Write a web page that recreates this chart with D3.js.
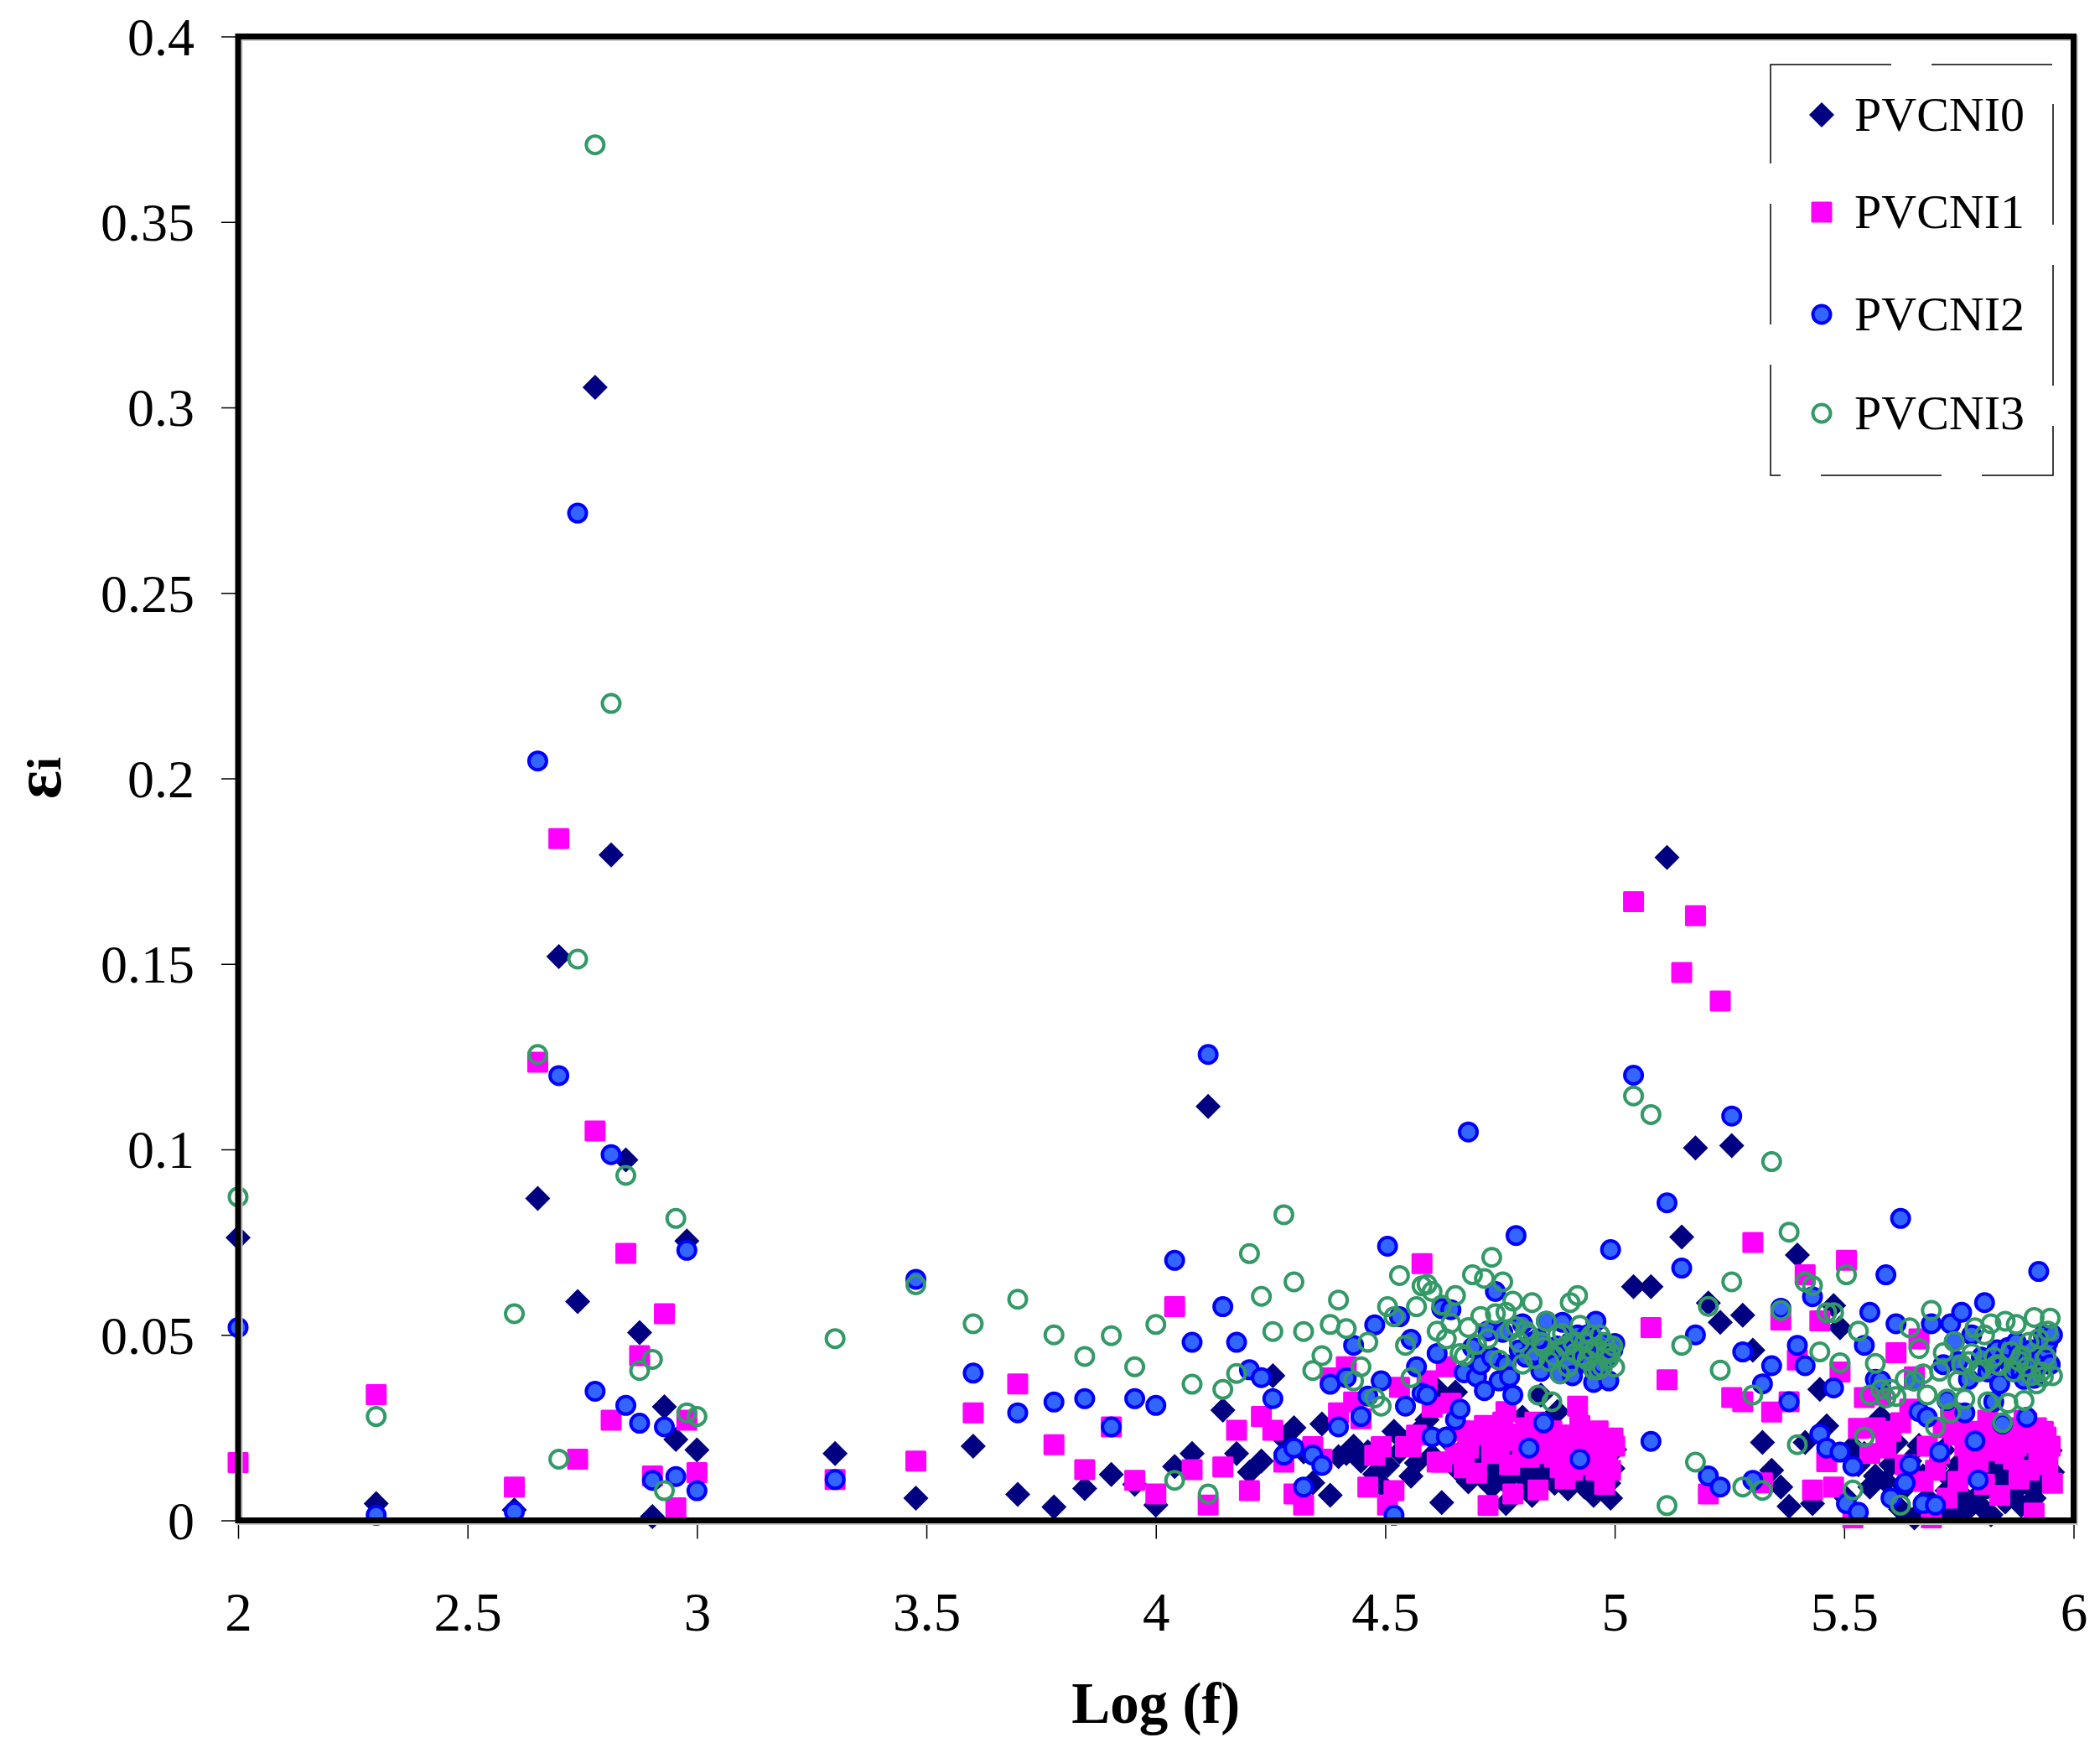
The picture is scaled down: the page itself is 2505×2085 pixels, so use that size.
<!DOCTYPE html>
<html lang="en">

<head>
    <meta charset="UTF-8">
    <title>PVCNI loss factor vs Log (f)</title>
    <script src="https://d3js.org/d3.v7.min.js"></script>
    <style>
        body { margin: 0; background: #fff; }
        svg { display: block; }
        text { font-family: "Liberation Serif", "Times New Roman", serif; fill: #000; }
    </style>
</head>

<body>
    <svg id="chart" width="2505" height="2085"></svg>

    <script>
        // log10 of the measuring frequency (100 Hz ... 900 kHz)
        const logF = [
            2.000, 2.301, 2.602, 2.653, 2.699, 2.740, 2.778, 2.813, 2.845, 2.875, 2.903, 2.929, 2.954, 2.978, 3.000,
            3.301, 3.477, 3.602, 3.699, 3.778, 3.845, 3.903, 3.954, 4.000,
            4.041, 4.079, 4.114, 4.146, 4.176, 4.204, 4.230, 4.255, 4.279, 4.301,
            4.322, 4.342, 4.362, 4.380, 4.398, 4.415, 4.431, 4.447, 4.462, 4.477, 4.491, 4.505, 4.519, 4.531, 4.544, 4.556, 4.568, 4.580,
            4.591, 4.602, 4.613, 4.623, 4.633, 4.643, 4.653, 4.663, 4.672, 4.681, 4.690, 4.699,
            4.708, 4.716, 4.724, 4.732, 4.740, 4.748, 4.756, 4.763, 4.771, 4.778,
            4.785, 4.792, 4.799, 4.806, 4.813, 4.820, 4.826, 4.833, 4.839, 4.845,
            4.851, 4.857, 4.863, 4.869, 4.875, 4.881, 4.886, 4.892, 4.898, 4.903,
            4.908, 4.914, 4.919, 4.924, 4.929, 4.934, 4.940, 4.944, 4.949, 4.954,
            4.959, 4.964, 4.968, 4.973, 4.978, 4.982, 4.987, 4.991, 4.996, 5.000,
            5.041, 5.079, 5.114, 5.146, 5.176, 5.204, 5.230, 5.255, 5.279, 5.301,
            5.322, 5.342, 5.362, 5.380, 5.398, 5.415, 5.431, 5.447, 5.462, 5.477, 5.491, 5.505, 5.519, 5.531, 5.544, 5.556, 5.568,
            5.580, 5.591, 5.602,
            5.613, 5.623, 5.633, 5.643, 5.653, 5.663, 5.672, 5.681, 5.690, 5.699,
            5.708, 5.716, 5.724, 5.732, 5.740, 5.748, 5.756, 5.763, 5.771, 5.778,
            5.785, 5.792, 5.799, 5.806, 5.813, 5.820, 5.826, 5.833, 5.839, 5.845,
            5.851, 5.857, 5.863, 5.869, 5.875, 5.881, 5.886, 5.892, 5.898, 5.903,
            5.908, 5.914, 5.919, 5.924, 5.929, 5.934, 5.940, 5.944, 5.949, 5.954
        ];

        const pvcni0 = [
            0.0762, 0.0045, 0.0028, 0.0868, 0.1520, 0.0590, 0.3054, 0.1794, 0.0972, 0.0506, 0.0010, 0.0306, 0.0218, 0.0753, 0.0190,
            0.0180, 0.0060, 0.0200, 0.0070, 0.0036, 0.0086, 0.0124, 0.0097, 0.0041,
            0.0145, 0.0180, 0.1116, 0.0297, 0.0180, 0.0130, 0.0160, 0.0390, 0.0220, 0.0250,
            0.0185, 0.0101, 0.0260, 0.0068, 0.0172, 0.0180, 0.0200, 0.0160, 0.0185, 0.0125, 0.0097, 0.0148, 0.0240, 0.0185, 0.0210, 0.0119, 0.0155, 0.0250,
            0.0271, 0.0175, 0.0353, 0.0048, 0.0220, 0.0160, 0.0346, 0.0130, 0.0195, 0.0104, 0.0210, 0.0142,
            0.0120, 0.0175, 0.0150, 0.0090, 0.0138, 0.0190, 0.0110, 0.0045, 0.0160, 0.0125,
            0.0205, 0.0130, 0.0278, 0.0150, 0.0100, 0.0067, 0.0180, 0.0120, 0.0338, 0.0112,
            0.0160, 0.0135, 0.0190, 0.0100, 0.0293, 0.0150, 0.0120, 0.0170, 0.0085, 0.0104,
            0.0160, 0.0130, 0.0180, 0.0110, 0.0150, 0.0090, 0.0140, 0.0120, 0.0180, 0.0067,
            0.0150, 0.0110, 0.0160, 0.0090, 0.0130, 0.0170, 0.0100, 0.0060, 0.0140, 0.0191,
            0.0630, 0.0630, 0.1787, 0.0764, 0.1004, 0.0586, 0.0534, 0.1010, 0.0553, 0.0459,
            0.0210, 0.0135, 0.0090, 0.0038, 0.0715, 0.0210, 0.0045, 0.0353, 0.0255, 0.0579, 0.0519, 0.0060, 0.0199, 0.0150, 0.0180, 0.0090, 0.0120,
            0.0278, 0.0105, 0.0150,
            0.0210, 0.0030, 0.0090, 0.0160, 0.0007, 0.0202, 0.0120, 0.0060, 0.0030, 0.0140,
            0.0015, 0.0190, 0.0080, 0.0110, 0.0030, 0.0150, 0.0070, 0.0022, 0.0130, 0.0170,
            0.0060, 0.0110, 0.0037, 0.0160, 0.0090, 0.0015, 0.0130, 0.0080, 0.0170, 0.0100,
            0.0050, 0.0140, 0.0090, 0.0075, 0.0160, 0.0110, 0.0040, 0.0150, 0.0100, 0.0180,
            0.0120, 0.0060, 0.0090, 0.0160, 0.0142, 0.0110, 0.0170, 0.0200, 0.0188, 0.0130
        ];

        const pvcni1 = [
            0.0156, 0.0339, 0.0090, 0.1235, 0.1838, 0.0165, 0.1050, 0.0270, 0.0720, 0.0444, 0.0120, 0.0557, 0.0034, 0.0270, 0.0129,
            0.0110, 0.0160, 0.0290, 0.0368, 0.0204, 0.0137, 0.0252, 0.0108, 0.0071,
            0.0576, 0.0137, 0.0041, 0.0144, 0.0243, 0.0080, 0.0280, 0.0243, 0.0157, 0.0071,
            0.0041, 0.0199, 0.0165, 0.0384, 0.0290, 0.0414, 0.0319, 0.0274, 0.0090, 0.0175, 0.0199, 0.0041, 0.0080, 0.0359, 0.0199, 0.0199, 0.0230, 0.0692,
            0.0376, 0.0305, 0.0157, 0.0157, 0.0414, 0.0316, 0.0180, 0.0241, 0.0142, 0.0195, 0.0241, 0.0127,
            0.0230, 0.0256, 0.0040, 0.0180, 0.0210, 0.0195, 0.0265, 0.0293, 0.0150, 0.0071,
            0.0215, 0.0233, 0.0190, 0.0250, 0.0170, 0.0210, 0.0265, 0.0082, 0.0220, 0.0180,
            0.0240, 0.0205, 0.0241, 0.0170, 0.0230, 0.0142, 0.0200, 0.0112, 0.0230, 0.0190,
            0.0135, 0.0215, 0.0308, 0.0256, 0.0180, 0.0230, 0.0218, 0.0150, 0.0200, 0.0170,
            0.0135, 0.0241, 0.0200, 0.0160, 0.0097, 0.0180, 0.0210, 0.0135, 0.0222, 0.0200,
            0.1668, 0.0520, 0.0379, 0.1477, 0.1630, 0.0071, 0.1400, 0.0331, 0.0320, 0.0749,
            0.0101, 0.0292, 0.0540, 0.0320, 0.0432, 0.0662, 0.0082, 0.0538, 0.0158, 0.0090, 0.0400, 0.0701, 0.0007, 0.0248, 0.0331, 0.0180, 0.0250,
            0.0338, 0.0195, 0.0240,
            0.0452, 0.0263, 0.0150, 0.0300, 0.0387, 0.0489, 0.0105, 0.0200, 0.0007, 0.0135,
            0.0180, 0.0250, 0.0060, 0.0290, 0.0230, 0.0105, 0.0270, 0.0200, 0.0150, 0.0240,
            0.0180, 0.0157, 0.0220, 0.0097, 0.0270, 0.0188, 0.0240, 0.0200, 0.0067, 0.0230,
            0.0180, 0.0225, 0.0250, 0.0165, 0.0200, 0.0112, 0.0230, 0.0270, 0.0263, 0.0135,
            0.0210, 0.0020, 0.0250, 0.0180, 0.0195, 0.0240, 0.0225, 0.0150, 0.0200, 0.0100
        ];

        const pvcni2 = [
            0.0520, 0.0014, 0.0023, 0.2047, 0.1199, 0.2715, 0.0348, 0.0986, 0.0310, 0.0262, 0.0108, 0.0252, 0.0118, 0.0728, 0.0080,
            0.0110, 0.0650, 0.0397, 0.0290, 0.0319, 0.0328, 0.0252, 0.0328, 0.0310,
            0.0701, 0.0480, 0.1256, 0.0576, 0.0480, 0.0406, 0.0385, 0.0328, 0.0176, 0.0195,
            0.0090, 0.0176, 0.0148, 0.0367, 0.0252, 0.0385, 0.0472, 0.0280, 0.0335, 0.0527, 0.0376, 0.0739, 0.0014, 0.0549, 0.0308, 0.0488, 0.0414, 0.0343,
            0.0338, 0.0225, 0.0450, 0.0571, 0.0225, 0.0568, 0.0271, 0.0300, 0.0398, 0.1047, 0.0466, 0.0387,
            0.0420, 0.0350, 0.0511, 0.0440, 0.0617, 0.0376, 0.0507, 0.0420, 0.0387, 0.0338,
            0.0768, 0.0460, 0.0530, 0.0440, 0.0195, 0.0480, 0.0450, 0.0489, 0.0402, 0.0263,
            0.0537, 0.0440, 0.0450, 0.0420, 0.0470, 0.0395, 0.0534, 0.0450, 0.0420, 0.0480,
            0.0390, 0.0460, 0.0500, 0.0165, 0.0474, 0.0440, 0.0500, 0.0420, 0.0470, 0.0372,
            0.0537, 0.0443, 0.0480, 0.0420, 0.0460, 0.0440, 0.0376, 0.0730, 0.0460, 0.0477,
            0.1200, 0.0213, 0.0856, 0.0680, 0.0500, 0.0120, 0.0090, 0.1090, 0.0454, 0.0108,
            0.0368, 0.0417, 0.0572, 0.0320, 0.0472, 0.0417, 0.0603, 0.0233, 0.0195, 0.0357, 0.0184, 0.0045, 0.0146, 0.0022, 0.0472, 0.0561, 0.0380,
            0.0376, 0.0662, 0.0060,
            0.0530, 0.0814, 0.0101, 0.0150, 0.0376, 0.0293, 0.0045, 0.0278, 0.0530, 0.0041,
            0.0184, 0.0420, 0.0323, 0.0530, 0.0482, 0.0428, 0.0561, 0.0290, 0.0380, 0.0500,
            0.0214, 0.0109, 0.0440, 0.0587, 0.0400, 0.0420, 0.0320, 0.0460, 0.0368, 0.0260,
            0.0440, 0.0466, 0.0420, 0.0406, 0.0480, 0.0447, 0.0400, 0.0380, 0.0278, 0.0440,
            0.0460, 0.0383, 0.0420, 0.0671, 0.0440, 0.0500, 0.0459, 0.0480, 0.0420, 0.0500
        ];

        const pvcni3 = [
            0.0872, 0.0280, 0.0557, 0.1256, 0.0165, 0.1513, 0.3708, 0.2202, 0.0930, 0.0404, 0.0434, 0.0080, 0.0814, 0.0290, 0.0280,
            0.0490, 0.0635, 0.0530, 0.0596, 0.0500, 0.0442, 0.0498, 0.0414, 0.0528,
            0.0108, 0.0367, 0.0071, 0.0353, 0.0396, 0.0719, 0.0604, 0.0509, 0.0824, 0.0643,
            0.0509, 0.0404, 0.0444, 0.0528, 0.0594, 0.0517, 0.0376, 0.0414, 0.0480, 0.0330, 0.0308, 0.0576, 0.0549, 0.0660, 0.0472, 0.0385, 0.0576, 0.0632,
            0.0636, 0.0617, 0.0510, 0.0580, 0.0489, 0.0531, 0.0606, 0.0450, 0.0443, 0.0520, 0.0662, 0.0474,
            0.0550, 0.0652, 0.0490, 0.0709, 0.0557, 0.0432, 0.0643, 0.0561, 0.0511, 0.0591,
            0.0522, 0.0480, 0.0421, 0.0511, 0.0500, 0.0587, 0.0436, 0.0338, 0.0480, 0.0466,
            0.0537, 0.0428, 0.0320, 0.0443, 0.0500, 0.0395, 0.0504, 0.0470, 0.0413, 0.0587,
            0.0480, 0.0451, 0.0606, 0.0526, 0.0443, 0.0480, 0.0432, 0.0460, 0.0500, 0.0406,
            0.0466, 0.0406, 0.0500, 0.0413, 0.0480, 0.0450, 0.0436, 0.0451, 0.0470, 0.0413,
            0.1144, 0.1094, 0.0040, 0.0472, 0.0157, 0.0577, 0.0405, 0.0643, 0.0090, 0.0338,
            0.0081, 0.0967, 0.0566, 0.0777, 0.0204, 0.0643, 0.0633, 0.0454, 0.0560, 0.0560, 0.0425, 0.0662, 0.0082, 0.0510, 0.0225, 0.0338, 0.0423,
            0.0353, 0.0330, 0.0353,
            0.0334, 0.0041, 0.0380, 0.0519, 0.0376, 0.0463, 0.0395, 0.0338, 0.0566, 0.0252,
            0.0402, 0.0452, 0.0327, 0.0290, 0.0482, 0.0376, 0.0420, 0.0327, 0.0428, 0.0450,
            0.0519, 0.0400, 0.0406, 0.0500, 0.0320, 0.0530, 0.0440, 0.0420, 0.0417, 0.0263,
            0.0537, 0.0316, 0.0455, 0.0400, 0.0528, 0.0430, 0.0444, 0.0323, 0.0414, 0.0480,
            0.0390, 0.0547, 0.0368, 0.0490, 0.0400, 0.0387, 0.0440, 0.0510, 0.0545, 0.0390
        ];

        const seriesNames = ["PVCNI0", "PVCNI1", "PVCNI2", "PVCNI3"];
        const xTicks = [2, 2.5, 3, 3.5, 4, 4.5, 5, 5.5, 6];
        const yTicks = [0, 0.05, 0.1, 0.15, 0.2, 0.25, 0.3, 0.35, 0.4];

        const svg = d3.select("#chart");

        const plotLeft = 284, plotRight = 2473.5, plotTop = 43.5, plotBottom = 1813.5;

        const x = d3.scaleLinear().domain([2, 6]).range([plotLeft, plotRight]);
        const y = d3.scaleLinear().domain([0, 0.4]).range([plotBottom, plotTop]);

        // marker look for each series, drawn in this order (last on top)
        const styles = [
            { shape: "diamond", fill: "#000080", stroke: "none", sw: 0 },
            { shape: "square", fill: "#FF00FF", stroke: "none", sw: 0 },
            { shape: "circle", fill: "#3366FF", stroke: "#0000FF", sw: 4 },
            { shape: "circle", fill: "none", stroke: "#339966", sw: 4 }
        ];
        const allSeries = [pvcni0, pvcni1, pvcni2, pvcni3];

        function drawMarker(g, st, cx, cy) {
            if (st.shape === "diamond") {
                g.append("path")
                    .attr("d", `M${cx},${cy - 15}L${cx + 15},${cy}L${cx},${cy + 15}L${cx - 15},${cy}Z`)
                    .attr("fill", st.fill);
            } else if (st.shape === "square") {
                g.append("rect")
                    .attr("x", cx - 12.5).attr("y", cy - 12.5)
                    .attr("width", 25).attr("height", 25)
                    .attr("rx", 1.5)
                    .attr("fill", st.fill);
            } else {
                g.append("circle")
                    .attr("cx", cx).attr("cy", cy).attr("r", 10.5)
                    .attr("fill", st.fill)
                    .attr("stroke", st.stroke)
                    .attr("stroke-width", st.sw);
            }
        }

        // axis ticks (outside the frame)
        const xAxis = d3.axisBottom(x).tickValues(xTicks).tickSize(22).tickFormat(d3.format("~g"));
        const yAxis = d3.axisLeft(y).tickValues(yTicks).tickSize(20).tickFormat(d3.format("~g"));

        const gx = svg.append("g").attr("transform", `translate(0,${plotBottom})`).call(xAxis);
        gx.select(".domain").remove();
        gx.selectAll(".tick line").attr("stroke", "#000").attr("stroke-width", 1.5);
        gx.selectAll(".tick text")
            .attr("y", 131)
            .attr("dy", 0)
            .style("font-family", "'Liberation Serif', serif")
            .style("font-size", "65px")
            .attr("fill", "#000");

        const gy = svg.append("g").attr("transform", `translate(${plotLeft},0)`).call(yAxis);
        gy.select(".domain").remove();
        gy.selectAll(".tick line").attr("stroke", "#000").attr("stroke-width", 1.5);
        gy.selectAll(".tick text")
            .attr("x", -52)
            .attr("dy", "0.34em")
            .style("font-family", "'Liberation Serif', serif")
            .style("font-size", "64px")
            .attr("fill", "#000");

        // points
        const plot = svg.append("g");
        allSeries.forEach((vals, s) => {
            const g = plot.append("g").attr("class", seriesNames[s]);
            vals.forEach((v, i) => drawMarker(g, styles[s], x(logF[i]), y(v)));
        });

        // frame with a faint grey shadow
        svg.append("rect")
            .attr("x", plotLeft + 2).attr("y", plotTop + 2)
            .attr("width", plotRight - plotLeft).attr("height", plotBottom - plotTop)
            .attr("fill", "none").attr("stroke", "#c8c8c8").attr("stroke-width", 7);
        svg.append("rect")
            .attr("x", plotLeft).attr("y", plotTop)
            .attr("width", plotRight - plotLeft).attr("height", plotBottom - plotTop)
            .attr("fill", "none").attr("stroke", "#000").attr("stroke-width", 7);

        // legend
        const lg = svg.append("g");
        lg.append("rect")
            .attr("x", 2112).attr("y", 77)
            .attr("width", 337).attr("height", 490)
            .attr("fill", "#fff")
            .attr("stroke", "#000").attr("stroke-width", 1.5)
            .attr("stroke-dasharray", "144,48");
        const rowsY = [137, 253, 375, 493];
        seriesNames.forEach((name, s) => {
            drawMarker(lg, styles[s], 2173, rowsY[s]);
            lg.append("text")
                .attr("x", 2212).attr("y", rowsY[s])
                .attr("dy", "0.33em")
                .style("font-size", "58px")
                .text(name);
        });

        // axis titles
        svg.append("text")
            .attr("x", (plotLeft + plotRight) / 2).attr("y", 2055)
            .attr("text-anchor", "middle")
            .style("font-size", "69px")
            .style("font-weight", "bold")
            .text("Log (f)");

        const yt = svg.append("text")
            .attr("transform", "translate(72,928) rotate(-90)")
            .attr("text-anchor", "middle")
            .style("font-weight", "bold");
        yt.append("tspan").style("font-size", "80px").text("ε");
        yt.append("tspan").style("font-size", "58px").text("i");
    </script>
</body>

</html>
